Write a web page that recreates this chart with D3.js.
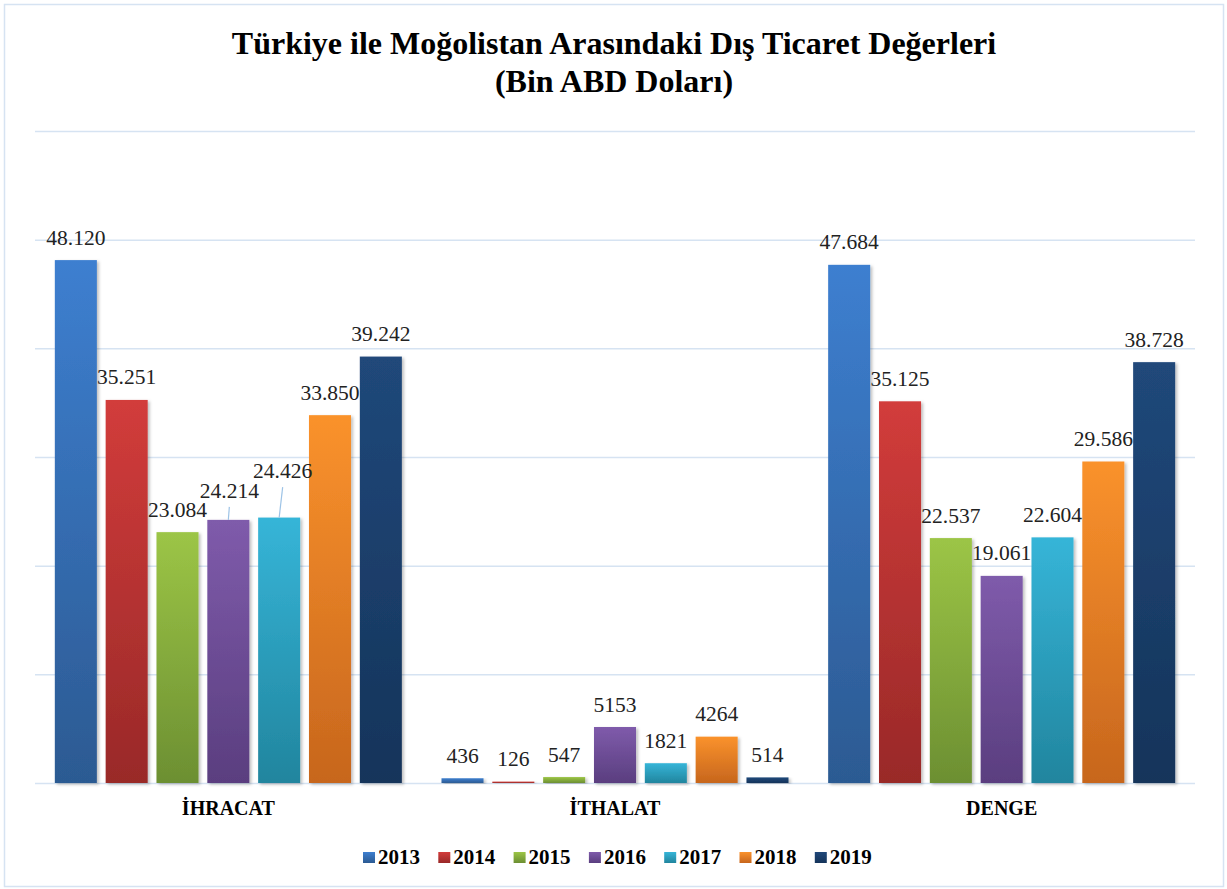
<!DOCTYPE html>
<html lang="tr">
  <head>
    <meta charset="utf-8">
    <title>Türkiye ile Moğolistan Arasındaki Dış Ticaret Değerleri</title>
    <style>
      body {
        margin: 0;
        background: #fff;
      }

      svg text {
        font-family: "Liberation Serif", "Times New Roman", serif;
        fill: #000;
      }

      .title {
        font-size: 32px;
        font-weight: bold;
        text-anchor: middle;
      }

      .value {
        font-size: 21.5px;
        text-anchor: middle;
        fill: #222;
      }

      .cat {
        font-size: 20px;
        font-weight: bold;
        text-anchor: middle;
      }

      .legend text {
        font-size: 21px;
        font-weight: bold;
      }

      .grid line {
        stroke: #d6e3f2;
        stroke-width: 1.5;
      }

      .grid path {
        display: none;
      }
    </style>
  </head>

  <body>
    <svg id="chart" width="1227" height="889"></svg>
    <script src="https://d3js.org/d3.v7.min.js"></script>
    <script>
      // values (bin ABD doları)
      var groups = ["İHRACAT", "İTHALAT", "DENGE"];
      var years = ["2013", "2014", "2015", "2016", "2017", "2018", "2019"];
      var ihracat = [48120, 35251, 23084, 24214, 24426, 33850, 39242];
      var ithalat = [436, 126, 547, 5153, 1821, 4264, 514];
      var denge = [47684, 35125, 22537, 19061, 22604, 29586, 38728];
      var yTicks = [0, 10000, 20000, 30000, 40000, 50000, 60000];

      // top / bottom colours of each year's gradient
      var topColors = ["#3d7fd0", "#d23c3b", "#9cc546", "#7f5bab", "#36b5d8", "#fa922c", "#20487a"];
      var bottomColors = ["#2c5a92", "#992928", "#6c8f32", "#5a3e7f", "#21859e", "#c7661d", "#15345a"];

      var series = [ihracat, ithalat, denge];

      var svg = d3.select("svg");
      var defs = svg.append("defs");

      years.forEach(function (yr, i) {
        var grad = defs.append("linearGradient")
          .attr("id", "g" + yr)
          .attr("x1", 0).attr("y1", 0)
          .attr("x2", 0).attr("y2", 1);
        grad.append("stop").attr("offset", "0%").attr("stop-color", topColors[i]);
        grad.append("stop").attr("offset", "100%").attr("stop-color", bottomColors[i]);
      });

      var shadow = defs.append("filter")
        .attr("id", "shadow")
        .attr("x", "-20%").attr("y", "-5%")
        .attr("width", "150%").attr("height", "120%");
      shadow.append("feDropShadow")
        .attr("dx", 2).attr("dy", 1.5)
        .attr("stdDeviation", 1.5)
        .attr("flood-color", "#000")
        .attr("flood-opacity", 0.25);

      // chart border
      svg.append("rect")
        .attr("x", 4.5).attr("y", 4.5)
        .attr("width", 1219).attr("height", 882)
        .attr("fill", "none")
        .attr("stroke", "#d6e3f2")
        .attr("stroke-width", 1.5);

      svg.append("text").attr("class", "title")
        .attr("x", 614).attr("y", 54)
        .text("Türkiye ile Moğolistan Arasındaki Dış Ticaret Değerleri");
      svg.append("text").attr("class", "title")
        .attr("x", 614).attr("y", 92)
        .text("(Bin ABD Doları)");

      var x0 = d3.scaleBand().domain(groups).range([35, 1195]);
      var x1 = d3.scaleBand().domain(years)
        .range([0, x0.bandwidth()])
        .paddingInner(0.173)
        .paddingOuter(0.39);
      var y = d3.scaleLinear().domain([0, 60000]).range([783, 131]);

      svg.append("g")
        .attr("class", "grid")
        .attr("transform", "translate(35,0)")
        .call(d3.axisLeft(y).tickValues(yTicks).tickSize(-1160).tickFormat(""));

      var dotted = d3.formatLocale({ decimal: ",", thousands: ".", grouping: [3], currency: ["", ""] }).format(",d");
      var plain = d3.format("d");

      var rows = [];
      groups.forEach(function (g, gi) {
        years.forEach(function (yr, i) {
          rows.push({ group: g, year: yr, value: series[gi][i], fmt: gi === 1 ? plain : dotted });
        });
      });

      // labels that were moved in the reference to avoid overlap
      var nudge = {
        "İHRACAT-2016": [1, -6.5],
        "İHRACAT-2017": [3.5, -24]
      };

      var bars = svg.append("g");
      bars.selectAll("rect")
        .data(rows)
        .enter()
        .append("rect")
        .attr("x", d => x0(d.group) + x1(d.year))
        .attr("y", d => y(d.value))
        .attr("width", x1.bandwidth())
        .attr("height", d => y(0) - y(d.value))
        .attr("fill", d => "url(#g" + d.year + ")")
        .attr("filter", "url(#shadow)");

      var labels = svg.append("g");
      rows.forEach(function (d) {
        var cx = x0(d.group) + x1(d.year) + x1.bandwidth() / 2;
        var top = y(d.value);
        var n = nudge[d.group + "-" + d.year] || [0, 0];
        var base = top - 15.5 + n[1];
        if (n[1] !== 0) {
          labels.append("line")
            .attr("x1", cx + n[0]).attr("y1", base + 9)
            .attr("x2", cx).attr("y2", top)
            .attr("stroke", "#9dc3e6")
            .attr("stroke-width", 1.2);
        }
        labels.append("text")
          .attr("class", "value")
          .attr("x", cx + n[0])
          .attr("y", base)
          .text(d.fmt(d.value));
      });

      svg.append("g").selectAll("text")
        .data(groups)
        .enter()
        .append("text")
        .attr("class", "cat")
        .attr("x", d => x0(d) + x0.bandwidth() / 2)
        .attr("y", 815)
        .text(d => d);

      var legend = svg.append("g").attr("class", "legend");
      var item = legend.selectAll("g")
        .data(years)
        .enter()
        .append("g")
        .attr("transform", (d, i) => "translate(" + (363 + i * 75.3) + ",852)");
      item.append("rect")
        .attr("width", 12).attr("height", 11)
        .attr("fill", d => "url(#g" + d + ")");
      item.append("text")
        .attr("x", 15).attr("y", 11.5)
        .text(d => d);
    </script>
  </body>
</html>
